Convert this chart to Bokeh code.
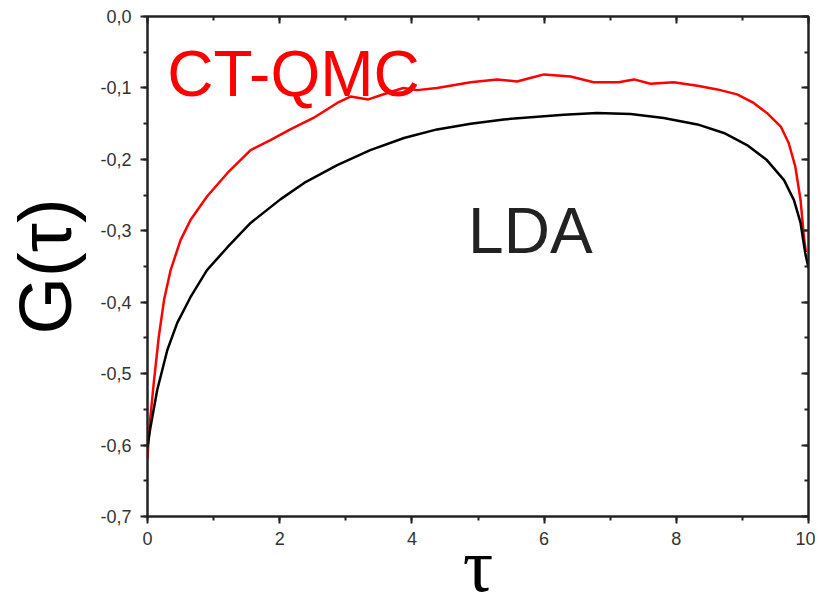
from bokeh.plotting import figure
from bokeh.models import (LinearAxis, SingleIntervalTicker, CustomJSTickFormatter,
                          Range1d, Label)
from bokeh.embed import file_html
from bokeh.resources import INLINE

# ---- data ----
ctqmc_tau = [0, 0.02, 0.095, 0.17, 0.25, 0.35, 0.50, 0.65, 0.90, 1.21, 1.56, 1.86, 2.16,
             2.51, 2.87, 3.07, 3.34, 3.63, 3.87, 4.08, 4.38, 4.89, 5.29, 5.59, 5.79, 6.0,
             6.40, 6.75, 7.13, 7.36, 7.61, 7.96, 8.32, 8.62, 8.92, 9.17, 9.37, 9.58, 9.70,
             9.80, 9.88, 9.93, 9.96]
ctqmc_g = [-0.62, -0.583, -0.513, -0.449, -0.397, -0.355, -0.313, -0.285, -0.252, -0.219,
           -0.187, -0.173, -0.158, -0.142, -0.121, -0.112, -0.116, -0.107, -0.100, -0.103,
           -0.100, -0.092, -0.088, -0.091, -0.086, -0.081, -0.084, -0.092, -0.092, -0.088,
           -0.094, -0.092, -0.097, -0.102, -0.109, -0.121, -0.135, -0.154, -0.177, -0.210,
           -0.257, -0.308, -0.33]

lda_tau = [0, 0.045, 0.147, 0.30, 0.45, 0.65, 0.90, 1.21, 1.56, 2.01, 2.37, 2.87, 3.37,
           3.88, 4.38, 4.89, 5.39, 5.95, 6.30, 6.80, 7.31, 7.81, 8.32, 8.72, 9.07, 9.37,
           9.63, 9.78, 9.88, 9.95, 10.0]
lda_g = [-0.603, -0.575, -0.523, -0.467, -0.429, -0.393, -0.355, -0.323, -0.289, -0.256,
         -0.233, -0.208, -0.187, -0.170, -0.158, -0.150, -0.144, -0.140, -0.1375, -0.135,
         -0.1365, -0.142, -0.151, -0.163, -0.180, -0.201, -0.229, -0.257, -0.289, -0.331,
         -0.352]

x_limits = (0, 10)
y_limits = (-0.7001, 0.0001)

FONT = "Liberation Sans"
AXC = "#222222"

p = figure(width=815, height=614, output_backend="svg", toolbar_location=None,
           x_range=Range1d(*x_limits), y_range=Range1d(*y_limits),
           min_border_left=147, min_border_right=7, min_border_top=16, min_border_bottom=98,
           x_axis_label="τ", y_axis_label="G(τ)")
p.grid.visible = False
p.outline_line_color = AXC
p.outline_line_width = 2
p.background_fill_color = "white"
p.border_fill_color = "white"

xt = SingleIntervalTicker(interval=2, num_minor_ticks=2)
yt = SingleIntervalTicker(interval=0.1, num_minor_ticks=2)

yfmt = CustomJSTickFormatter(code="""
    if (Math.abs(tick) < 1e-9) return '0,0';
    return tick.toFixed(1).replace('.', ',');
""")
xfmt = CustomJSTickFormatter(code="return Math.round(tick).toString();")
blank = CustomJSTickFormatter(code="return '';")

def style(ax, outward=True):
    ax.axis_line_color = AXC
    ax.axis_line_width = 2
    ax.major_tick_line_color = AXC
    ax.minor_tick_line_color = AXC
    ax.major_tick_line_width = 2
    ax.minor_tick_line_width = 2
    if outward:
        ax.major_tick_out = 7
        ax.major_tick_in = 0
        ax.minor_tick_out = 4
        ax.minor_tick_in = 0
    else:
        ax.major_tick_out = 0
        ax.major_tick_in = 7
        ax.minor_tick_out = 0
        ax.minor_tick_in = 4
    ax.major_label_text_font = FONT
    ax.major_label_text_font_size = "18px"
    ax.major_label_text_color = "#333333"

xa = p.xaxis[0]
ya = p.yaxis[0]
xa.ticker = xt
ya.ticker = yt
xa.formatter = xfmt
ya.formatter = yfmt
style(xa)
style(ya)
xa.major_label_standoff = 8
ya.major_label_standoff = 9
xa.axis_label_text_font = "Liberation Serif"
xa.axis_label_text_font_style = "normal"
xa.axis_label_text_font_size = "76px"
xa.axis_label_text_color = "black"
xa.axis_label_standoff = -25
ya.axis_label_text_font = FONT
ya.axis_label_text_font_style = "normal"
ya.axis_label_text_font_size = "74px"
ya.axis_label_text_color = "black"
ya.axis_label_standoff = 10

top = LinearAxis(ticker=xt, formatter=blank)
right = LinearAxis(ticker=yt, formatter=blank)
style(top, outward=False)
style(right, outward=False)
p.add_layout(top, "above")
p.add_layout(right, "right")

p.line(ctqmc_tau, ctqmc_g, line_color="#ff0000", line_width=2.5)
p.line(lda_tau, lda_g, line_color="black", line_width=2.5)

p.add_layout(Label(x=0.3, y=-0.08, text="CT-QMC", text_color="#ff0000",
                   text_font=FONT, text_font_size="64px", text_baseline="alphabetic"))
p.add_layout(Label(x=4.85, y=-0.3, text="LDA", text_color="#222222",
                   text_font=FONT, text_font_size="64px", text_baseline="alphabetic"))

open("out.html", "w").write(file_html(p, INLINE))
